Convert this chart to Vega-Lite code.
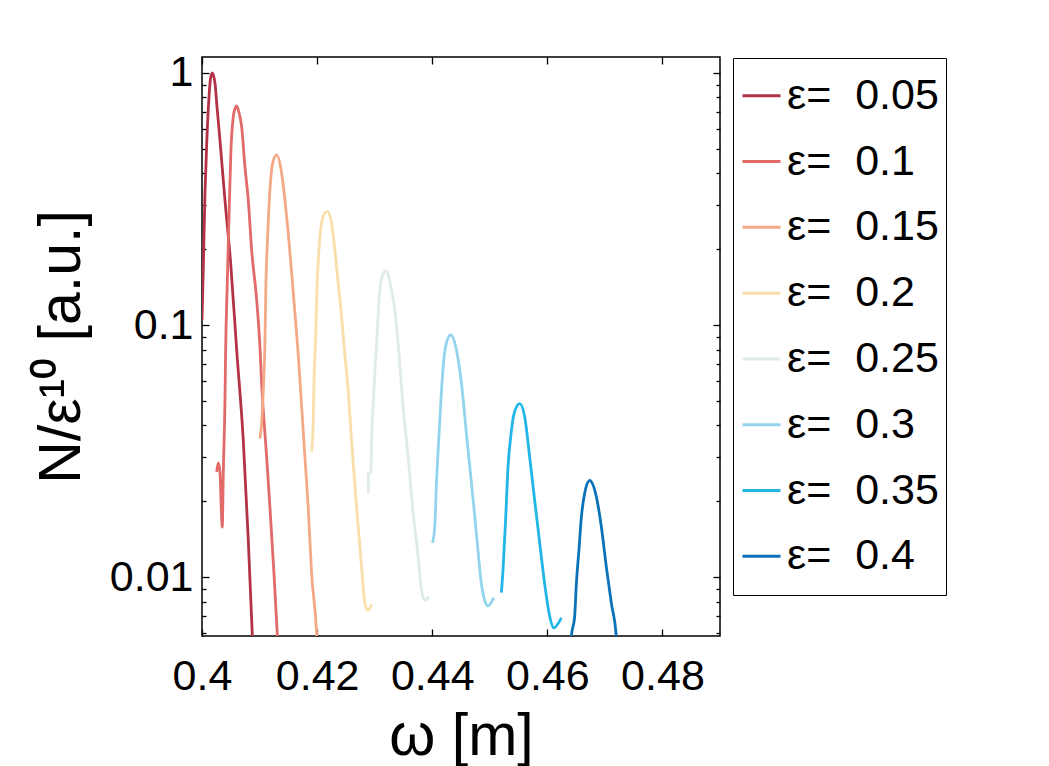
{
  "$schema": "https://vega.github.io/schema/vega-lite/v6.json",
  "width": 518,
  "height": 579,
  "autosize": {"type": "none"},
  "padding": {"left": 202, "top": 57, "right": 329, "bottom": 130},
  "background": "white",
  "config": {
    "font": "Liberation Sans",
    "view": {"stroke": "black", "strokeWidth": 1.5},
    "axis": {"grid": false, "domain": false, "tickColor": "black", "tickWidth": 1.3, "labelColor": "black", "titleColor": "black",
      "labelFont": "Liberation Sans", "titleFont": "Liberation Sans", "labelFontSize": 43, "titleFontSize": 59, "titleFontWeight": "normal"},
    "legend": {"orient": "none", "legendX": 531, "legendY": 1, "strokeColor": "black", "fillColor": "white", "padding": 7,
      "rowPadding": 3.8, "clipHeight": 61.5, "labelFontSize": 43, "labelFont": "Liberation Sans", "labelColor": "black", "symbolType": "stroke",
      "symbolSize": 1444, "symbolStrokeWidth": 3, "labelOffset": 4, "labelLimit": 400}
  },
  "data": {"values": [
    {"s":"ε=  0.05","x":0.4000,"y":0.105},{"s":"ε=  0.05","x":0.40023,"y":0.17},{"s":"ε=  0.05","x":0.40052,"y":0.334},
    {"s":"ε=  0.05","x":0.40082,"y":0.527},{"s":"ε=  0.05","x":0.40122,"y":0.805},{"s":"ε=  0.05","x":0.40148,"y":0.95},
    {"s":"ε=  0.05","x":0.40179,"y":1.0},{"s":"ε=  0.05","x":0.40226,"y":0.91},{"s":"ε=  0.05","x":0.40255,"y":0.76},
    {"s":"ε=  0.05","x":0.40312,"y":0.542},{"s":"ε=  0.05","x":0.40399,"y":0.313},{"s":"ε=  0.05","x":0.40498,"y":0.176},
    {"s":"ε=  0.05","x":0.40602,"y":0.080},{"s":"ε=  0.05","x":0.40717,"y":0.035},{"s":"ε=  0.05","x":0.40804,"y":0.0141},
    {"s":"ε=  0.05","x":0.40873,"y":0.006},{"s":"ε=  0.05","x":0.40903,"y":0.0045},

    {"s":"ε=  0.1","x":0.40255,"y":0.0262},{"s":"ε=  0.1","x":0.40283,"y":0.0284},{"s":"ε=  0.1","x":0.40312,"y":0.0262},
    {"s":"ε=  0.1","x":0.40338,"y":0.018},{"s":"ε=  0.1","x":0.40352,"y":0.0158},{"s":"ε=  0.1","x":0.40370,"y":0.0259},
    {"s":"ε=  0.1","x":0.40399,"y":0.050},{"s":"ε=  0.1","x":0.40411,"y":0.080},{"s":"ε=  0.1","x":0.40439,"y":0.147},
    {"s":"ε=  0.1","x":0.40469,"y":0.27},{"s":"ε=  0.1","x":0.40503,"y":0.495},{"s":"ε=  0.1","x":0.40543,"y":0.67},
    {"s":"ε=  0.1","x":0.40575,"y":0.725},{"s":"ε=  0.1","x":0.40602,"y":0.74},{"s":"ε=  0.1","x":0.40640,"y":0.70},
    {"s":"ε=  0.1","x":0.40689,"y":0.612},{"s":"ε=  0.1","x":0.40746,"y":0.425},{"s":"ε=  0.1","x":0.40804,"y":0.313},
    {"s":"ε=  0.1","x":0.40863,"y":0.198},{"s":"ε=  0.1","x":0.40950,"y":0.126},{"s":"ε=  0.1","x":0.41007,"y":0.082},
    {"s":"ε=  0.1","x":0.41036,"y":0.059},{"s":"ε=  0.1","x":0.41123,"y":0.030},{"s":"ε=  0.1","x":0.41180,"y":0.019},
    {"s":"ε=  0.1","x":0.41250,"y":0.0104},{"s":"ε=  0.1","x":0.41307,"y":0.006},{"s":"ε=  0.1","x":0.41330,"y":0.0048},

    {"s":"ε=  0.15","x":0.41007,"y":0.0355},{"s":"ε=  0.15","x":0.41036,"y":0.041},{"s":"ε=  0.15","x":0.41064,"y":0.055},
    {"s":"ε=  0.15","x":0.41094,"y":0.086},{"s":"ε=  0.15","x":0.41111,"y":0.147},{"s":"ε=  0.15","x":0.41140,"y":0.224},
    {"s":"ε=  0.15","x":0.41180,"y":0.343},{"s":"ε=  0.15","x":0.41227,"y":0.438},{"s":"ε=  0.15","x":0.41297,"y":0.473},
    {"s":"ε=  0.15","x":0.41383,"y":0.401},{"s":"ε=  0.15","x":0.41441,"y":0.313},{"s":"ε=  0.15","x":0.41498,"y":0.232},
    {"s":"ε=  0.15","x":0.41557,"y":0.161},{"s":"ε=  0.15","x":0.41614,"y":0.112},{"s":"ε=  0.15","x":0.41666,"y":0.0797},
    {"s":"ε=  0.15","x":0.41731,"y":0.0475},{"s":"ε=  0.15","x":0.41788,"y":0.030},{"s":"ε=  0.15","x":0.41845,"y":0.019},
    {"s":"ε=  0.15","x":0.41904,"y":0.0104},{"s":"ε=  0.15","x":0.41991,"y":0.006},{"s":"ε=  0.15","x":0.42010,"y":0.0048},

    {"s":"ε=  0.2","x":0.41904,"y":0.0315},{"s":"ε=  0.2","x":0.41932,"y":0.041},{"s":"ε=  0.2","x":0.41949,"y":0.0645},
    {"s":"ε=  0.2","x":0.41974,"y":0.087},{"s":"ε=  0.2","x":0.41991,"y":0.126},{"s":"ε=  0.2","x":0.42031,"y":0.198},
    {"s":"ε=  0.2","x":0.42078,"y":0.254},{"s":"ε=  0.2","x":0.42135,"y":0.278},{"s":"ε=  0.2","x":0.42182,"y":0.282},
    {"s":"ε=  0.2","x":0.42251,"y":0.254},{"s":"ε=  0.2","x":0.42309,"y":0.198},{"s":"ε=  0.2","x":0.42366,"y":0.147},
    {"s":"ε=  0.2","x":0.42425,"y":0.108},{"s":"ε=  0.2","x":0.42470,"y":0.082},{"s":"ε=  0.2","x":0.42540,"y":0.055},
    {"s":"ε=  0.2","x":0.42598,"y":0.035},{"s":"ε=  0.2","x":0.42685,"y":0.019},{"s":"ε=  0.2","x":0.42772,"y":0.011},
    {"s":"ε=  0.2","x":0.42829,"y":0.0079},{"s":"ε=  0.2","x":0.42887,"y":0.0074},{"s":"ε=  0.2","x":0.42946,"y":0.0078},

    {"s":"ε=  0.25","x":0.42887,"y":0.0215},{"s":"ε=  0.25","x":0.42890,"y":0.0258},{"s":"ε=  0.25","x":0.42934,"y":0.026},
    {"s":"ε=  0.25","x":0.42946,"y":0.035},{"s":"ε=  0.25","x":0.42973,"y":0.0475},{"s":"ε=  0.25","x":0.43003,"y":0.0645},
    {"s":"ε=  0.25","x":0.43043,"y":0.093},{"s":"ε=  0.25","x":0.43090,"y":0.138},{"s":"ε=  0.25","x":0.43147,"y":0.160},
    {"s":"ε=  0.25","x":0.43194,"y":0.164},{"s":"ε=  0.25","x":0.43293,"y":0.138},{"s":"ε=  0.25","x":0.43350,"y":0.115},
    {"s":"ε=  0.25","x":0.43407,"y":0.085},{"s":"ε=  0.25","x":0.43494,"y":0.0475},{"s":"ε=  0.25","x":0.43581,"y":0.030},
    {"s":"ε=  0.25","x":0.43668,"y":0.018},{"s":"ε=  0.25","x":0.43755,"y":0.0121},{"s":"ε=  0.25","x":0.43814,"y":0.0089},
    {"s":"ε=  0.25","x":0.43871,"y":0.0081},{"s":"ε=  0.25","x":0.43946,"y":0.0084},

    {"s":"ε=  0.3","x":0.44005,"y":0.0137},{"s":"ε=  0.3","x":0.44044,"y":0.0159},{"s":"ε=  0.3","x":0.44074,"y":0.0236},
    {"s":"ε=  0.3","x":0.44119,"y":0.037},{"s":"ε=  0.3","x":0.44161,"y":0.055},{"s":"ε=  0.3","x":0.44201,"y":0.0726},
    {"s":"ε=  0.3","x":0.44248,"y":0.085},{"s":"ε=  0.3","x":0.44322,"y":0.0915},{"s":"ε=  0.3","x":0.44421,"y":0.0797},
    {"s":"ε=  0.3","x":0.44508,"y":0.0588},{"s":"ε=  0.3","x":0.44595,"y":0.037},{"s":"ε=  0.3","x":0.44682,"y":0.0236},
    {"s":"ε=  0.3","x":0.44768,"y":0.0149},{"s":"ε=  0.3","x":0.44855,"y":0.0094},{"s":"ε=  0.3","x":0.44912,"y":0.0081},
    {"s":"ε=  0.3","x":0.44970,"y":0.0077},{"s":"ε=  0.3","x":0.45069,"y":0.0083},

    {"s":"ε=  0.35","x":0.45202,"y":0.0087},{"s":"ε=  0.35","x":0.45230,"y":0.0107},{"s":"ε=  0.35","x":0.45277,"y":0.0173},
    {"s":"ε=  0.35","x":0.45317,"y":0.0274},{"s":"ε=  0.35","x":0.45364,"y":0.0361},{"s":"ε=  0.35","x":0.45421,"y":0.0445},
    {"s":"ε=  0.35","x":0.45520,"y":0.0488},{"s":"ε=  0.35","x":0.45607,"y":0.0433},{"s":"ε=  0.35","x":0.45693,"y":0.030},
    {"s":"ε=  0.35","x":0.45780,"y":0.0202},{"s":"ε=  0.35","x":0.45867,"y":0.0137},{"s":"ε=  0.35","x":0.45954,"y":0.0094},
    {"s":"ε=  0.35","x":0.46041,"y":0.0070},{"s":"ε=  0.35","x":0.46110,"y":0.0063},{"s":"ε=  0.35","x":0.46244,"y":0.0069},

    {"s":"ε=  0.4","x":0.46388,"y":0.0045},{"s":"ε=  0.4","x":0.46417,"y":0.0058},{"s":"ε=  0.4","x":0.46475,"y":0.0070},
    {"s":"ε=  0.4","x":0.46504,"y":0.0094},{"s":"ε=  0.4","x":0.46549,"y":0.0128},{"s":"ε=  0.4","x":0.46591,"y":0.0173},
    {"s":"ε=  0.4","x":0.46648,"y":0.0215},{"s":"ε=  0.4","x":0.46735,"y":0.0242},{"s":"ε=  0.4","x":0.46851,"y":0.0209},
    {"s":"ε=  0.4","x":0.46938,"y":0.0159},{"s":"ε=  0.4","x":0.47025,"y":0.011},{"s":"ε=  0.4","x":0.47112,"y":0.0079},
    {"s":"ε=  0.4","x":0.47198,"y":0.0058},{"s":"ε=  0.4","x":0.47221,"y":0.0047}
  ]},
  "layer": [
    {
      "mark": {"type": "line", "strokeWidth": 2.8, "clip": true, "interpolate": "monotone"},
      "encoding": {
        "x": {"field": "x", "type": "quantitative",
          "scale": {"domain": [0.4, 0.49], "nice": false, "zero": false},
          "axis": {"title": "ω [m]", "values": [0.4, 0.42, 0.44, 0.46, 0.48], "format": "~g", "tickSize": -7,
            "labelPadding": 26, "labelFlush": false, "labelOverlap": false, "titlePadding": 9}},
        "y": {"field": "y", "type": "quantitative",
          "scale": {"type": "log", "domain": [0.00585, 1.157], "nice": false},
          "axis": {"title": "N/ε¹⁰ [a.u.]",
            "values": [0.006, 0.007, 0.008, 0.009, 0.01, 0.02, 0.03, 0.04, 0.05, 0.06, 0.07, 0.08, 0.09, 0.1, 0.2, 0.3, 0.4, 0.5, 0.6, 0.7, 0.8, 0.9, 1],
            "labelExpr": "datum.value == 1 ? '1' : datum.value == 0.1 ? '0.1' : datum.value == 0.01 ? '0.01' : ''",
            "tickSize": {"condition": {"test": "datum.value == 1 || datum.value == 0.1 || datum.value == 0.01", "value": -7}, "value": -4},
            "labelPadding": 16, "labelOverlap": false, "titlePadding": 18}},
        "color": {"field": "s", "type": "nominal", "title": null,
          "legend": {"labelExpr": "replace(datum.label, '  ', '\u00a0\u00a0')"},
          "scale": {"domain": ["ε=  0.05", "ε=  0.1", "ε=  0.15", "ε=  0.2", "ε=  0.25", "ε=  0.3", "ε=  0.35", "ε=  0.4"],
            "range": ["#b23347", "#e26a68", "#f5a886", "#f8deaa", "#dfece4", "#91d4ec", "#20b6e6", "#0a72b8"]}}
      }
    },
    {
      "mark": {"type": "point", "opacity": 0, "clip": true},
      "encoding": {
        "x": {"field": "x", "type": "quantitative",
          "axis": {"orient": "top", "title": null, "labels": false, "values": [0.4, 0.42, 0.44, 0.46, 0.48], "tickSize": -7}},
        "y": {"field": "y", "type": "quantitative",
          "axis": {"orient": "right", "title": null, "labels": false,
            "values": [0.006, 0.007, 0.008, 0.009, 0.01, 0.02, 0.03, 0.04, 0.05, 0.06, 0.07, 0.08, 0.09, 0.1, 0.2, 0.3, 0.4, 0.5, 0.6, 0.7, 0.8, 0.9, 1],
            "tickSize": {"condition": {"test": "datum.value == 1 || datum.value == 0.1 || datum.value == 0.01", "value": -7}, "value": -4}}}
      }
    }
  ],
  "resolve": {"axis": {"x": "independent", "y": "independent"}}
}
